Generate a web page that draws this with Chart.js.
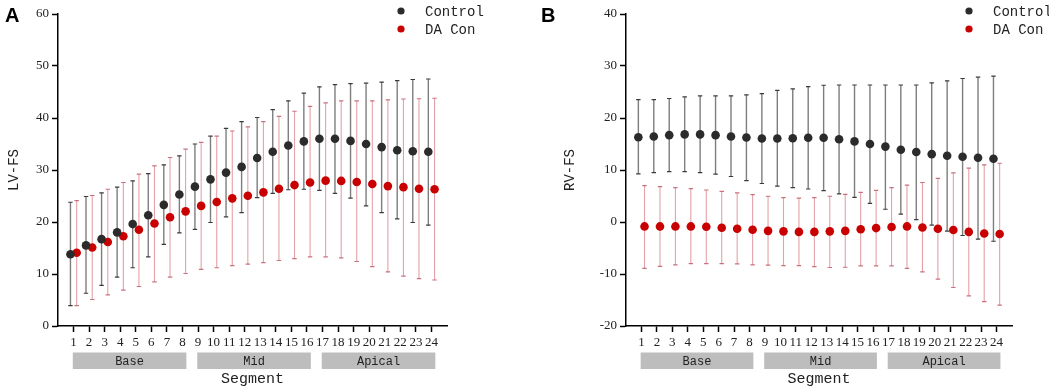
<!DOCTYPE html>
<html>
<head>
<meta charset="utf-8">
<script src="https://cdn.jsdelivr.net/npm/chart.js@4.4.1/dist/chart.umd.min.js"></script>
<style>
  html, body { margin: 0; padding: 0; background: #fff; }
  .panel { position: absolute; top: 0; height: 392px; }
  #pa { left: 0; width: 524px; }
  #pb { left: 524px; width: 525px; }
</style>
</head>
<body>
<div class="panel" id="pa"><canvas id="lv"></canvas></div>
<div class="panel" id="pb"><canvas id="rv"></canvas></div>
<script>
// segments and regions
var segments = [1, 2, 3, 4, 5, 6, 7, 8, 9, 10, 11, 12, 13, 14, 15, 16, 17, 18, 19, 20, 21, 22, 23, 24];
var regions = ['Base', 'Mid', 'Apical'];
var regionFirst = [1, 9, 17];
var regionLast = [8, 16, 24];
var seriesNames = ['Control', 'DA Con'];
var lvTicks = [0, 10, 20, 30, 40, 50, 60];
var rvTicks = [-20, -10, 0, 10, 20, 30, 40];

// LV-FS, mean with lower / upper end of the error bar
var lvCtrlMean = [13.8, 15.5, 16.7, 18.0, 19.6, 21.3, 23.3, 25.3, 26.8, 28.2, 29.5, 30.6, 32.3, 33.5, 34.7, 35.5, 36.0, 36.0, 35.6, 35.0, 34.4, 33.8, 33.6, 33.5];
var lvCtrlHi = [23.8, 24.9, 25.6, 26.7, 27.9, 29.3, 31.0, 32.7, 35.0, 36.5, 38.0, 39.3, 40.1, 41.6, 43.3, 44.8, 46.0, 46.4, 46.6, 46.7, 46.9, 47.2, 47.4, 47.5];
var lvCtrlLo = [3.9, 6.3, 7.8, 9.4, 11.2, 13.3, 15.7, 17.9, 18.6, 19.9, 21.0, 21.8, 24.7, 25.5, 26.2, 26.3, 26.1, 25.5, 24.6, 23.1, 21.8, 20.6, 19.9, 19.4];
var lvDaMean = [14.1, 15.1, 16.15, 17.25, 18.5, 19.7, 20.9, 22.05, 23.1, 23.85, 24.55, 25.05, 25.7, 26.4, 27.1, 27.6, 27.95, 27.9, 27.7, 27.3, 26.9, 26.7, 26.4, 26.3];
var lvDaHi = [24.1, 25.1, 26.3, 27.6, 29.2, 30.8, 32.4, 34.0, 35.3, 36.5, 37.5, 38.3, 39.3, 40.3, 41.3, 42.25, 42.9, 43.3, 43.3, 43.3, 43.5, 43.65, 43.7, 43.8];
var lvDaLo = [3.9, 5.1, 6.0, 6.9, 7.6, 8.5, 9.4, 10.1, 10.9, 11.2, 11.6, 11.9, 12.2, 12.6, 12.95, 13.3, 13.3, 13.1, 12.4, 11.4, 10.4, 9.6, 9.1, 8.85];

// RV-FS
var rvCtrlMean = [16.3, 16.45, 16.7, 16.85, 16.85, 16.7, 16.45, 16.25, 16.05, 16.05, 16.1, 16.2, 16.2, 15.9, 15.5, 15.0, 14.5, 13.9, 13.45, 13.05, 12.75, 12.55, 12.35, 12.15];
var rvCtrlHi = [23.55, 23.55, 23.75, 24.05, 24.25, 24.25, 24.25, 24.45, 24.7, 25.3, 25.6, 26.05, 26.3, 26.35, 26.35, 26.35, 26.35, 26.35, 26.35, 26.75, 27.15, 27.6, 27.85, 28.05];
var rvCtrlLo = [9.25, 9.5, 9.7, 9.7, 9.5, 9.2, 8.75, 7.95, 7.4, 6.9, 6.6, 6.35, 6.05, 5.4, 4.75, 3.6, 2.45, 1.5, 0.45, -0.6, -1.75, -2.6, -3.3, -3.7];
var rvDaMean = [-0.85, -0.85, -0.85, -0.85, -0.9, -1.1, -1.3, -1.5, -1.7, -1.8, -1.9, -1.9, -1.8, -1.7, -1.4, -1.17, -0.97, -0.85, -1.05, -1.3, -1.55, -1.9, -2.2, -2.3];
var rvDaHi = [7.0, 6.8, 6.6, 6.4, 6.15, 5.9, 5.6, 5.25, 4.95, 4.7, 4.6, 4.7, 4.95, 5.3, 5.7, 6.1, 6.6, 7.1, 7.6, 8.4, 9.45, 10.35, 11.0, 11.3];
var rvDaLo = [-8.9, -8.55, -8.25, -8.0, -8.0, -8.0, -8.05, -8.25, -8.3, -8.4, -8.4, -8.6, -8.75, -8.7, -8.45, -8.45, -8.45, -8.9, -9.6, -11.0, -12.6, -14.2, -15.3, -16.0];

var ctrlColor = '#2b2b2b';
var daColor = '#c80000';
var monoFont = "'Liberation Mono', monospace";
var serifFont = "'Liberation Serif', serif";

function pts(means, shift) {
    return means.map(function (v, i) { return { x: segments[i] + shift, y: v }; });
}

// error bars, drawn behind the points
var errorBars = {
    id: 'errorBars',
    beforeDatasetsDraw: function (chart) {
        var ctx = chart.ctx, xs = chart.scales.x, ys = chart.scales.y;
        chart.data.datasets.forEach(function (ds) {
            ctx.save();
            for (var i = 0; i < segments.length; i++) {
                var x = xs.getPixelForValue(segments[i] + ds.shift);
                var yl = ys.getPixelForValue(ds.lo[i]);
                var yh = ys.getPixelForValue(ds.hi[i]);
                ctx.strokeStyle = ds.barColor;
                ctx.lineWidth = ds.barWidth;
                ctx.beginPath();
                ctx.moveTo(x, yl);
                ctx.lineTo(x, yh);
                ctx.stroke();
                ctx.strokeStyle = ds.capColor;
                ctx.lineWidth = 1.2;
                ctx.beginPath();
                ctx.moveTo(x - 2.2, yh); ctx.lineTo(x + 2.2, yh);
                ctx.moveTo(x - 2.2, yl); ctx.lineTo(x + 2.2, yl);
                ctx.stroke();
            }
            ctx.restore();
        });
    }
};

// region bands under the axis, legend and panel letter
var extras = {
    id: 'extras',
    afterDraw: function (chart, args, opts) {
        var ctx = chart.ctx, xs = chart.scales.x;
        ctx.save();
        for (var i = 0; i < regions.length; i++) {
            var x0 = xs.getPixelForValue(regionFirst[i] - 0.05);
            var x1 = xs.getPixelForValue(regionLast[i] + 0.25);
            ctx.fillStyle = '#bdbdbd';
            ctx.fillRect(x0, 352.5, x1 - x0, 16.5);
            ctx.fillStyle = '#222';
            ctx.font = '12px ' + monoFont;
            ctx.textAlign = 'center';
            ctx.textBaseline = 'middle';
            ctx.fillText(regions[i], (x0 + x1) / 2, 361.5);
        }
        var cols = [ctrlColor, daColor];
        for (var k = 0; k < seriesNames.length; k++) {
            var ly = 11 + k * 18;
            ctx.fillStyle = cols[k];
            ctx.beginPath();
            ctx.arc(opts.legendX, ly, 3.6, 0, Math.PI * 2);
            ctx.fill();
            ctx.fillStyle = '#222';
            ctx.font = '14px ' + monoFont;
            ctx.textAlign = 'left';
            ctx.textBaseline = 'middle';
            ctx.fillText(seriesNames[k], opts.legendX + 24, ly + 1);
        }
        ctx.fillStyle = '#000';
        ctx.font = 'bold 20px "Liberation Sans", sans-serif';
        ctx.textAlign = 'left';
        ctx.textBaseline = 'middle';
        ctx.fillText(opts.letter, opts.letterX, 16);
        ctx.restore();
    }
};

function makeChart(id, cfg) {
    return new Chart(document.getElementById(id), {
        type: 'scatter',
        data: {
            datasets: [{
                label: seriesNames[0],
                data: pts(cfg.ctrlMean, -0.2),
                lo: cfg.ctrlLo, hi: cfg.ctrlHi, shift: -0.2,
                barColor: '#7d7d7d', capColor: '#3a3a3a', barWidth: 1.4,
                backgroundColor: ctrlColor, borderWidth: 0, pointRadius: 4.3
            }, {
                label: seriesNames[1],
                data: pts(cfg.daMean, 0.2),
                lo: cfg.daLo, hi: cfg.daHi, shift: 0.2,
                barColor: '#e3a2a9', capColor: '#c9707c', barWidth: 1.1,
                backgroundColor: daColor, borderWidth: 0, pointRadius: 4.3
            }]
        },
        options: {
            responsive: true,
            maintainAspectRatio: false,
            animation: false,
            layout: { padding: cfg.padding },
            plugins: {
                legend: { display: false },
                tooltip: { enabled: false },
                extras: { letter: cfg.letter, letterX: cfg.letterX, legendX: cfg.legendX }
            },
            scales: {
                x: {
                    type: 'linear',
                    min: 0,
                    max: 25,
                    afterFit: function (s) { s.height = 66; },
                    afterBuildTicks: function (s) { s.ticks = segments.map(function (v) { return { value: v }; }); },
                    grid: { drawOnChartArea: false, drawTicks: true, tickLength: 6, tickColor: '#000', tickWidth: 1.5 },
                    border: { display: true, color: '#000', width: 1.5 },
                    ticks: {
                        autoSkip: false, maxRotation: 0, padding: 3, color: '#222',
                        font: { family: serifFont, size: 13 }
                    },
                    title: {
                        display: true, text: 'Segment', color: '#222',
                        font: { family: monoFont, size: 15 },
                        padding: { top: 0, bottom: 4 }
                    }
                },
                y: {
                    min: cfg.yTicks[0],
                    max: cfg.yTicks[cfg.yTicks.length - 1],
                    afterFit: function (s) { s.width = cfg.yWidth; },
                    afterBuildTicks: function (s) { s.ticks = cfg.yTicks.map(function (v) { return { value: v }; }); },
                    grid: { drawOnChartArea: false, drawTicks: true, tickLength: 6, tickColor: '#000', tickWidth: 1.5 },
                    border: { display: true, color: '#000', width: 1.5 },
                    ticks: {
                        padding: 3, color: '#222',
                        font: { family: serifFont, size: 13 }
                    },
                    title: {
                        display: true, text: cfg.yTitle, color: '#222',
                        font: { family: monoFont, size: 14 },
                        padding: { top: 6, bottom: 0 }
                    }
                }
            }
        },
        plugins: [errorBars, extras]
    });
}

makeChart('lv', {
    ctrlMean: lvCtrlMean, ctrlLo: lvCtrlLo, ctrlHi: lvCtrlHi,
    daMean: lvDaMean, daLo: lvDaLo, daHi: lvDaHi,
    yTicks: lvTicks, yTitle: 'LV-FS', yWidth: 58,
    padding: { left: 0, top: 14, right: 77, bottom: 0 },
    letter: 'A', letterX: 5, legendX: 401
});

makeChart('rv', {
    ctrlMean: rvCtrlMean, ctrlLo: rvCtrlLo, ctrlHi: rvCtrlHi,
    daMean: rvDaMean, daLo: rvDaLo, daHi: rvDaHi,
    yTicks: rvTicks, yTitle: 'RV-FS', yWidth: 70,
    padding: { left: 32, top: 14, right: 37, bottom: 0 },
    letter: 'B', letterX: 17, legendX: 445
});
</script>
</body>
</html>
